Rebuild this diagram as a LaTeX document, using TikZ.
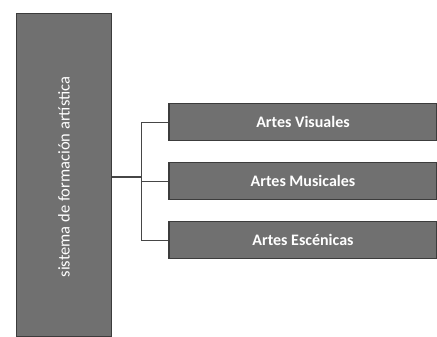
\documentclass[tikz,border=0pt]{standalone}
\usepackage{fontspec}
\setmainfont{Carlito}
\usetikzlibrary{positioning}
\definecolor{boxgray}{RGB}{112,112,112}
\definecolor{edgegray}{RGB}{60,60,60}
\definecolor{linegray}{RGB}{70,70,70}

\begin{document}
\begin{tikzpicture}[x=1pt,y=-1pt,
  sysbox/.style={fill=boxgray, draw=edgegray, line width=1.5pt, minimum width=95pt, minimum height=323pt, inner sep=0pt},
  artbox/.style={fill=boxgray, draw=edgegray, line width=1.5pt, minimum width=268pt, minimum height=37pt, inner sep=0pt, text=white, font=\fontsize{16}{18}\selectfont\bfseries},
  branch/.style={draw=linegray, line width=0.8pt}]
\useasboundingbox (0,0) rectangle (437,337);

% left column
\node[sysbox] (sys) at (64,175) {};
\node[rotate=90, text=white, font=\fontsize{16.5}{18}\selectfont] (systxt) at (64,177) {sistema de formación artística};

% right boxes
\node[artbox] (vis) at (303,122) {Artes Visuales};
\node[artbox] (mus) at (303,181) {Artes Musicales};
\node[artbox] (esc) at (303,240) {Artes Escénicas};

% connectors
\coordinate (hub) at (141,177);
\draw[branch, line width=1.2pt] (sys.east |- hub) -- (hub);
\foreach \n in {vis,mus,esc} {
  \draw[branch] (\n.west) -| (hub);
}
\end{tikzpicture}
\end{document}
